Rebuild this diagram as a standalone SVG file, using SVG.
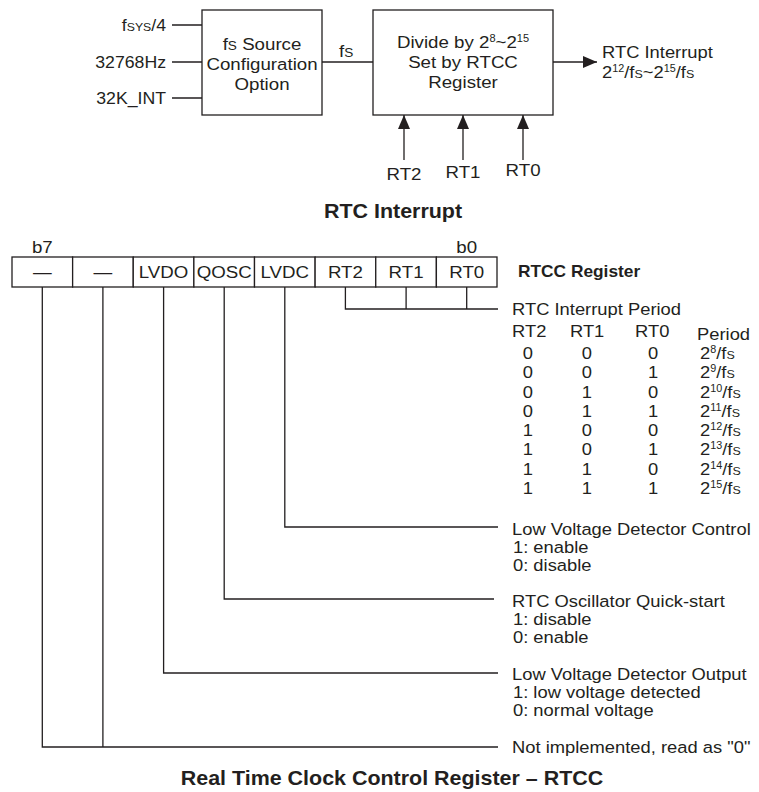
<svg xmlns="http://www.w3.org/2000/svg" width="759" height="792" viewBox="0 0 759 792">
<defs>
<style>
.t{font-family:"Liberation Sans",Arial,Helvetica,sans-serif;font-size:17px;fill:#231f20}
.b{font-family:"Liberation Sans",Arial,Helvetica,sans-serif;font-weight:bold;fill:#231f20}
.m{text-anchor:middle}
.e{text-anchor:end}
.sc{font-variant:small-caps}
.box{fill:#fff;stroke:#231f20;stroke-width:1.3}
.ln{fill:none;stroke:#231f20;stroke-width:1.3}
</style>
<marker id="ah" viewBox="0 0 14 12" markerWidth="14" markerHeight="12" refX="14" refY="6" orient="auto" markerUnits="userSpaceOnUse">
<path d="M0,0 L14,6 L0,12 z" fill="#231f20"/>
</marker>
</defs>
<rect width="759" height="792" fill="#fff"/>

<g id="connectors">
<path class="ln" d="M172 25 H202 M172 62 H202 M172 98 H202"/>
<path class="ln" d="M322 62 H373"/>
<path class="ln" d="M553 62 H597" marker-end="url(#ah)"/>
<path class="ln" d="M404 160 V115" marker-end="url(#ah)"/>
<path class="ln" d="M463 160 V115" marker-end="url(#ah)"/>
<path class="ln" d="M523 160 V115" marker-end="url(#ah)"/>
<path class="ln" d="M42.3 287 V747 H498 M102.9 287 V747"/>
<path class="ln" d="M163.6 287 V673 H498"/>
<path class="ln" d="M224.2 287 V599 H494"/>
<path class="ln" d="M284.8 287 V527 H498"/>
<path class="ln" d="M345.4 287 V309 H498 M406.1 287 V309 M466.7 287 V309"/>
</g>

<g id="inputs" transform="translate(166 0) scale(1.04 1)">
<text class="t e" x="0" y="31">f<tspan class="sc">sys</tspan>/4</text>
<text class="t e" x="0" y="68">32768Hz</text>
<text class="t e" x="0" y="104">32K_INT</text>
</g>

<g id="fs-source">
<rect class="box" x="202" y="10" width="120" height="105"/>
<g transform="translate(262 0) scale(1.1 1)">
<text class="t m" x="0" y="50">f<tspan class="sc">s</tspan> Source</text>
<text class="t m" x="0" y="70">Configuration</text>
<text class="t m" x="0" y="90">Option</text>
</g>
</g>

<g id="fs-label">
<text class="t" transform="translate(339 57) scale(1.1 1)">f<tspan class="sc">s</tspan></text>
</g>

<g id="divider">
<rect class="box" x="373" y="10" width="180" height="105"/>
<g transform="translate(463 0) scale(1.1 1)">
<text class="t m" x="0" y="48">Divide by 2<tspan font-size="10" dy="-6">8</tspan><tspan dy="6">~2</tspan><tspan font-size="10" dy="-6">15</tspan></text>
<text class="t m" x="0" y="68">Set by RTCC</text>
<text class="t m" x="0" y="88">Register</text>
</g>
</g>

<g id="rtc-output" transform="translate(602 0) scale(1.08 1)">
<text class="t" x="0" y="58">RTC Interrupt</text>
<text class="t" x="0" y="78">2<tspan font-size="10" dy="-6">12</tspan><tspan dy="6">/f</tspan><tspan class="sc">s</tspan>~2<tspan font-size="10" dy="-6">15</tspan><tspan dy="6">/f</tspan><tspan class="sc">s</tspan></text>
</g>

<g id="rt-inputs" transform="scale(1.1 1)">
<text class="t m" x="367.3" y="180">RT2</text>
<text class="t m" x="420.9" y="178">RT1</text>
<text class="t m" x="475.5" y="176">RT0</text>
</g>

<g id="title-rtc-interrupt">
<text class="b m" font-size="19.5" transform="translate(393 218) scale(1.1 1)">RTC Interrupt</text>
</g>

<g id="rtcc-register">
<text class="t m" transform="translate(42.3 253) scale(1.1 1)">b7</text>
<text class="t m" transform="translate(466.7 253) scale(1.1 1)">b0</text>
<g id="bit7"><rect class="box" x="12" y="257" width="60.625" height="30"/><text class="t m" transform="translate(42.3 278) scale(1.1 1)">—</text></g>
<g id="bit6"><rect class="box" x="72.625" y="257" width="60.625" height="30"/><text class="t m" transform="translate(102.9 278) scale(1.1 1)">—</text></g>
<g id="bit5"><rect class="box" x="133.25" y="257" width="60.625" height="30"/><text class="t m" transform="translate(163.6 278) scale(1.1 1)">LVDO</text></g>
<g id="bit4"><rect class="box" x="193.875" y="257" width="60.625" height="30"/><text class="t m" transform="translate(224.2 278) scale(1.1 1)">QOSC</text></g>
<g id="bit3"><rect class="box" x="254.5" y="257" width="60.625" height="30"/><text class="t m" transform="translate(284.8 278) scale(1.1 1)">LVDC</text></g>
<g id="bit2"><rect class="box" x="315.125" y="257" width="60.625" height="30"/><text class="t m" transform="translate(345.4 278) scale(1.1 1)">RT2</text></g>
<g id="bit1"><rect class="box" x="375.75" y="257" width="60.625" height="30"/><text class="t m" transform="translate(406.1 278) scale(1.1 1)">RT1</text></g>
<g id="bit0"><rect class="box" x="436.375" y="257" width="60.625" height="30"/><text class="t m" transform="translate(466.7 278) scale(1.1 1)">RT0</text></g>
<text class="b" font-size="16.5" transform="translate(518 277) scale(1.05 1)">RTCC Register</text>
</g>

<g id="right-column" transform="translate(512 0) scale(1.08 1)">
<g id="rt-period">
<text class="t" x="0" y="315">RTC Interrupt Period</text>
<text class="t" x="0" y="337">RT2</text>
<text class="t" x="53.7" y="337">RT1</text>
<text class="t" x="113.9" y="337">RT0</text>
<text class="t" x="171.3" y="340">Period</text>
<g class="t m">
<text x="14.8" y="359">0</text><text x="69.4" y="359">0</text><text x="130.6" y="359">0</text>
<text x="14.8" y="378.3">0</text><text x="69.4" y="378.3">0</text><text x="130.6" y="378.3">1</text>
<text x="14.8" y="397.6">0</text><text x="69.4" y="397.6">1</text><text x="130.6" y="397.6">0</text>
<text x="14.8" y="416.9">0</text><text x="69.4" y="416.9">1</text><text x="130.6" y="416.9">1</text>
<text x="14.8" y="436.2">1</text><text x="69.4" y="436.2">0</text><text x="130.6" y="436.2">0</text>
<text x="14.8" y="455.5">1</text><text x="69.4" y="455.5">0</text><text x="130.6" y="455.5">1</text>
<text x="14.8" y="474.8">1</text><text x="69.4" y="474.8">1</text><text x="130.6" y="474.8">0</text>
<text x="14.8" y="494.1">1</text><text x="69.4" y="494.1">1</text><text x="130.6" y="494.1">1</text>
</g>
<text class="t" x="174.1" y="359">2<tspan font-size="10" dy="-6">8</tspan><tspan dy="6">/f</tspan><tspan class="sc">s</tspan></text>
<text class="t" x="174.1" y="378.3">2<tspan font-size="10" dy="-6">9</tspan><tspan dy="6">/f</tspan><tspan class="sc">s</tspan></text>
<text class="t" x="174.1" y="397.6">2<tspan font-size="10" dy="-6">10</tspan><tspan dy="6">/f</tspan><tspan class="sc">s</tspan></text>
<text class="t" x="174.1" y="416.9">2<tspan font-size="10" dy="-6">11</tspan><tspan dy="6">/f</tspan><tspan class="sc">s</tspan></text>
<text class="t" x="174.1" y="436.2">2<tspan font-size="10" dy="-6">12</tspan><tspan dy="6">/f</tspan><tspan class="sc">s</tspan></text>
<text class="t" x="174.1" y="455.5">2<tspan font-size="10" dy="-6">13</tspan><tspan dy="6">/f</tspan><tspan class="sc">s</tspan></text>
<text class="t" x="174.1" y="474.8">2<tspan font-size="10" dy="-6">14</tspan><tspan dy="6">/f</tspan><tspan class="sc">s</tspan></text>
<text class="t" x="174.1" y="494.1">2<tspan font-size="10" dy="-6">15</tspan><tspan dy="6">/f</tspan><tspan class="sc">s</tspan></text>
</g>

<g id="lvdc-desc">
<text class="t" x="0" y="535">Low Voltage Detector Control</text>
<text class="t" x="0.9" y="553">1: enable</text>
<text class="t" x="0.9" y="571">0: disable</text>
</g>
<g id="qosc-desc">
<text class="t" x="0" y="607">RTC Oscillator Quick-start</text>
<text class="t" x="0.9" y="625">1: disable</text>
<text class="t" x="0.9" y="643">0: enable</text>
</g>
<g id="lvdo-desc">
<text class="t" x="0" y="680">Low Voltage Detector Output</text>
<text class="t" x="0.9" y="698">1: low voltage detected</text>
<text class="t" x="0.9" y="716">0: normal voltage</text>
</g>
<g id="unimpl-desc">
<text class="t" x="0" y="753">Not implemented, read as "0"</text>
</g>
</g>

<g id="title-rtcc">
<text class="b m" font-size="19.5" transform="translate(392 785) scale(1.1 1)">Real Time Clock Control Register – RTCC</text>
</g>
</svg>
